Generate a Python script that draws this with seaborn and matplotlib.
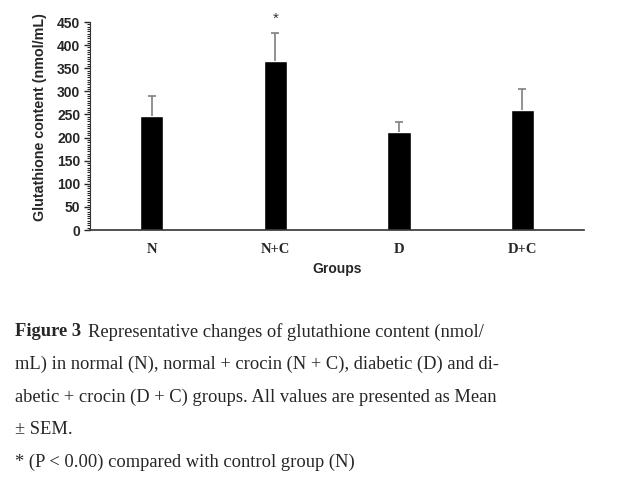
import pandas as pd
import matplotlib
matplotlib.use("Agg")
import matplotlib.pyplot as plt
from matplotlib.ticker import MultipleLocator
import seaborn as sns

# values
groups = ["N", "N+C", "D", "D+C"]
means = [247, 365, 211, 260]
sem = [43, 61, 23, 45]
star_label = "*"

CAPTION_LINES = [
    "Representative changes of glutathione content (nmol/",
    "mL) in normal (N), normal + crocin (N + C), diabetic (D) and di-",
    "abetic + crocin (D + C) groups. All values are presented as Mean",
    "\u00b1 SEM.",
    "* (P < 0.00) compared with control group (N)",
]


def main():
    sns.set_style("ticks")
    plt.rcParams["font.family"] = ["Liberation Sans", "DejaVu Sans"]

    df = pd.DataFrame({"group": groups, "mean": means, "sem": sem})

    fig = plt.figure(figsize=(6.31, 4.8), dpi=100)
    ax = fig.add_axes([0.1426, 0.5208, 0.783, 0.4333])

    sns.barplot(data=df, x="group", y="mean", color="black", width=0.19,
                saturation=1, errorbar=None, ax=ax)
    # only the upper half of the error bars is drawn
    _, caps, _ = ax.errorbar(range(len(groups)), df["mean"],
                             yerr=[[0] * len(groups), df["sem"]],
                             fmt="none", ecolor="#7f7f7f", elinewidth=1.2,
                             capsize=3, capthick=1.2)
    caps[0].set_visible(False)

    ax.text(1, 457, star_label, ha="center", va="center", fontsize=11,
            color="#333333", clip_on=False)

    ax.set_ylim(0, 450)
    ax.set_xlim(-0.5, 3.5)
    ax.yaxis.set_major_locator(MultipleLocator(50))
    ax.yaxis.set_minor_locator(MultipleLocator(5))
    ax.tick_params(axis="y", which="major", length=4, width=1, labelsize=10, pad=3)
    ax.tick_params(axis="y", which="minor", length=2.5, width=0.8)
    ax.tick_params(axis="x", length=0, pad=9)
    for lbl in ax.get_yticklabels():
        lbl.set_fontweight("bold")
    for lbl in ax.get_xticklabels():
        lbl.set_fontweight("bold")
        lbl.set_family("Liberation Serif")
        lbl.set_fontsize(10.5)

    sns.despine(ax=ax)
    ax.spines["left"].set_color("#333333")
    ax.spines["bottom"].set_color("#333333")
    ax.spines["bottom"].set_linewidth(1.2)

    ax.set_ylabel("Glutathione content (nmol/mL)", fontsize=10.3, fontweight="bold")
    ax.yaxis.set_label_coords(-0.088, 0.545)
    ax.set_xlabel("Groups", fontsize=10, fontweight="bold", labelpad=5)

    # figure caption underneath the chart
    x0 = 15 / 631
    ys = [332, 364, 397, 429, 462]
    fig.text(x0, 1 - ys[0] / 480, "Figure 3", fontsize=13.3, fontweight="bold",
             family="Liberation Serif", va="center")
    fig.text(x0 + 0.115, 1 - ys[0] / 480, CAPTION_LINES[0], fontsize=13.3,
             family="Liberation Serif", va="center")
    for y, line in zip(ys[1:], CAPTION_LINES[1:]):
        fig.text(x0, 1 - y / 480, line, fontsize=13.3, family="Liberation Serif", va="center")

    fig.savefig("out.png", dpi=100)


if __name__ == "__main__":
    main()
